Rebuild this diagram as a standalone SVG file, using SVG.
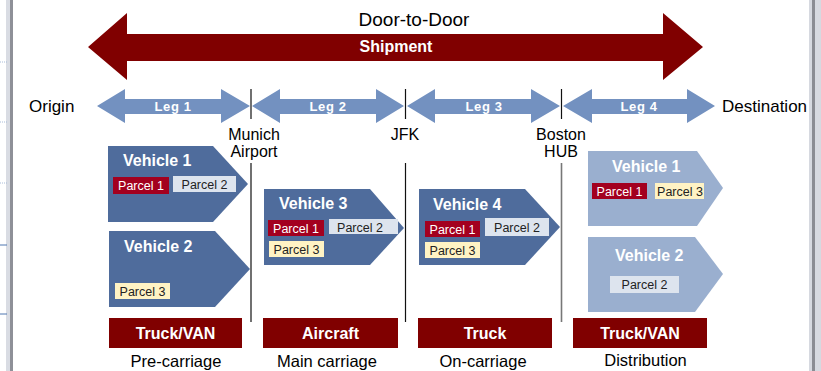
<svg xmlns="http://www.w3.org/2000/svg" width="821" height="371" viewBox="0 0 821 371">
<style>
text{font-family:"Liberation Sans",Arial,sans-serif}
.lbl{font-size:16.5px;fill:#000}
.lb2{font-size:16px;fill:#000;text-anchor:middle}
.leg{fill:#7391C0}
.legt{font-size:13px;font-weight:bold;fill:#fff;letter-spacing:0.6px;text-anchor:middle}
.veh{fill:#4F6C9C}
.vehl{fill:#9AAFCF}
.veht{font-size:16px;font-weight:bold;fill:#fff}
.p1{fill:#A3001F}
.p2{fill:#DDE4EE}
.p3{fill:#FFF3C4}
.pt{font-size:12.5px;fill:#222;text-anchor:middle}
.pw{font-size:12.5px;fill:#fff;text-anchor:middle}
.mode{fill:#800000}
.modet{font-size:16px;font-weight:bold;fill:#fff;text-anchor:middle}
.sep{stroke:#111;stroke-width:1.2}
</style>
<rect width="821" height="371" fill="#fff"/>
<rect x="6" y="0" width="4" height="371" fill="#D9DCE3"/>
<rect x="10" y="0" width="3" height="371" fill="#8E9098"/>
<rect x="809" y="0" width="3" height="371" fill="#D6D9E0"/>
<rect x="812" y="0" width="3" height="371" fill="#8A8C93"/>
<rect x="815" y="0" width="6" height="371" fill="#D6D9E0"/>
<g stroke-width="1">
<line x1="0" y1="62" x2="7" y2="62" stroke="#A9BCD8" stroke-dasharray="1,1"/>
<line x1="0" y1="122" x2="7" y2="122" stroke="#A9BCD8" stroke-dasharray="1,1"/>
<line x1="0" y1="183" x2="7" y2="183" stroke="#A9BCD8" stroke-dasharray="1,1"/>
<line x1="0" y1="245" x2="7" y2="245" stroke="#4F77B0"/>
<line x1="0" y1="314" x2="7" y2="314" stroke="#4F77B0"/>
</g>

<g id="shipment">
<polygon points="88,47 127,13 127,34 663,34 663,13 703,47 663,80 663,61 127,61 127,80" fill="#800000"/>
<text x="414" y="26" font-size="19" text-anchor="middle">Door-to-Door</text>
<text x="396" y="52" font-size="16" font-weight="bold" fill="#fff" text-anchor="middle">Shipment</text>
</g>

<g id="origin"><text x="29" y="112" font-size="17">Origin</text></g>
<g id="destination"><text x="722" y="112" font-size="17">Destination</text></g>

<g id="leg1">
<polygon class="leg" points="97,106 125,89 125,99 221,99 221,89 250,106 221,123 221,114 125,114 125,123"/>
<text class="legt" x="173" y="111">Leg 1</text>
</g>
<g id="leg2">
<polygon class="leg" points="252,106 280,89 280,99 376,99 376,89 404,106 376,123 376,114 280,114 280,123"/>
<text class="legt" x="328" y="111">Leg 2</text>
</g>
<g id="leg3">
<polygon class="leg" points="407,106 435,89 435,99 531,99 531,89 560,106 531,123 531,114 435,114 435,123"/>
<text class="legt" x="484" y="111">Leg 3</text>
</g>
<g id="leg4">
<polygon class="leg" points="563,106 592,89 592,99 687,99 687,89 715,106 687,123 687,114 592,114 592,123"/>
<text class="legt" x="639" y="111">Leg 4</text>
</g>

<g id="connectors">
<line class="sep" x1="251" y1="89" x2="251" y2="119"/>
<line class="sep" x1="405.5" y1="89" x2="405.5" y2="119"/>
<line class="sep" x1="561.5" y1="89" x2="561.5" y2="119" stroke="#666"/>
<line class="sep" x1="251" y1="163" x2="251" y2="322"/>
<line class="sep" x1="405.5" y1="163" x2="405.5" y2="322"/>
<line class="sep" x1="561.5" y1="163" x2="561.5" y2="322" style="stroke:#777;stroke-width:1.6"/>
</g>

<g id="munich"><text class="lb2" x="254" y="140">Munich</text><text class="lb2" x="254" y="157">Airport</text></g>
<g id="jfk"><text class="lb2" x="405" y="140">JFK</text></g>
<g id="boston"><text class="lb2" x="561" y="140">Boston</text><text class="lb2" x="561" y="157">HUB</text></g>

<g id="leg1-vehicle1">
<polygon class="veh" points="108,146 213,146 248,184 213,222 108,222"/>
<text class="veht" x="123" y="166">Vehicle 1</text>
<rect class="p1" x="113" y="177" width="56" height="17"/>
<text class="pw" x="141" y="190">Parcel 1</text>
<rect class="p2" x="173" y="176" width="63" height="16"/>
<text class="pt" x="204.5" y="189">Parcel 2</text>
</g>
<g id="leg1-vehicle2">
<polygon class="veh" points="109,231 215,231 250,269 215,307 109,307"/>
<text class="veht" x="124" y="252">Vehicle 2</text>
<rect class="p3" x="115" y="283" width="55" height="16"/>
<text class="pt" x="142.5" y="296">Parcel 3</text>
</g>
<g id="leg2-vehicle3">
<polygon class="veh" points="264,189 370,189 404,228 370,265 264,265"/>
<text class="veht" x="279" y="209">Vehicle 3</text>
<rect class="p1" x="268" y="220" width="56" height="16"/>
<text class="pw" x="296" y="232.5">Parcel 1</text>
<rect class="p2" x="329" y="219" width="69" height="15"/>
<text class="pt" x="360" y="231.5">Parcel 2</text>
<rect class="p3" x="269" y="241" width="55" height="16"/>
<text class="pt" x="296.5" y="253.5">Parcel 3</text>
</g>
<g id="leg3-vehicle4">
<polygon class="veh" points="419,189 525,189 560,227 525,265 419,265"/>
<text class="veht" x="433" y="210">Vehicle 4</text>
<rect class="p1" x="425" y="221" width="55" height="16"/>
<text class="pw" x="452.5" y="233.5">Parcel 1</text>
<rect class="p2" x="485" y="218" width="64" height="18"/>
<text class="pt" x="517" y="231.5">Parcel 2</text>
<rect class="p3" x="425" y="242" width="55" height="16"/>
<text class="pt" x="452.5" y="254.5">Parcel 3</text>
</g>
<g id="leg4-vehicle1">
<polygon class="vehl" points="588,151 697,151 723,188 697,226 588,226"/>
<text class="veht" x="612" y="172">Vehicle 1</text>
<rect class="p1" x="592" y="183" width="55" height="16"/>
<text class="pw" x="619.5" y="195.5">Parcel 1</text>
<rect class="p3" x="655" y="183" width="49" height="16"/>
<text class="pt" x="680" y="195.5">Parcel 3</text>
</g>
<g id="leg4-vehicle2">
<polygon class="vehl" points="588,237 695,237 723,274 695,312 588,312"/>
<text class="veht" x="615" y="261">Vehicle 2</text>
<rect class="p2" x="610" y="276" width="69" height="17"/>
<text class="pt" x="644.5" y="289">Parcel 2</text>
</g>

<g id="mode1"><rect class="mode" x="109" y="318" width="133" height="30"/><text class="modet" x="175.5" y="339">Truck/VAN</text><text class="lbl" x="176" y="367" text-anchor="middle">Pre-carriage</text></g>
<g id="mode2"><rect class="mode" x="263" y="318" width="135" height="30"/><text class="modet" x="330.5" y="339">Aircraft</text><text class="lbl" x="327" y="367" text-anchor="middle">Main carriage</text></g>
<g id="mode3"><rect class="mode" x="418" y="318" width="134" height="30"/><text class="modet" x="485" y="339">Truck</text><text class="lbl" x="483" y="367" text-anchor="middle">On-carriage</text></g>
<g id="mode4"><rect class="mode" x="573" y="318" width="134" height="30"/><text class="modet" x="640" y="339">Truck/VAN</text><text class="lbl" x="645.5" y="366" text-anchor="middle">Distribution</text></g>
</svg>
